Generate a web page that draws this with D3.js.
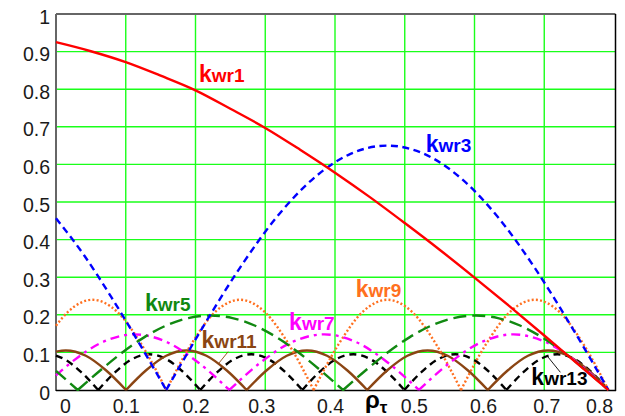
<!DOCTYPE html>
<html>
<head>
<meta charset="utf-8">
<script src="https://cdn.jsdelivr.net/npm/d3@7"></script>
<style>
  html, body { margin: 0; padding: 0; background: #fff; }
  svg { display: block; }
  text { font-family: "Liberation Sans", Arial, sans-serif; }
</style>
</head>
<body>
<svg id="chart" width="625" height="416"></svg>
<script>
// Axis ticks
const xTicks = [0, 0.1, 0.2, 0.3, 0.4, 0.5, 0.6, 0.7, 0.8];
const yTicks = [0, 0.1, 0.2, 0.3, 0.4, 0.5, 0.6, 0.7, 0.8, 0.9, 1];

// Harmonic orders of the winding factor curves
const harmonics = ["1", "3", "5", "7", "9", "11", "13"];

// Winding factor k_wr(nu) versus rho_tau, as [rho, k] pairs
const kwr1 = [[0,0.925],[0.05,0.901],[0.1,0.872],[0.15,0.836],[0.2,0.797],[0.25,0.748],
  [0.3,0.697],[0.35,0.639],[0.4,0.578],[0.45,0.513],[0.5,0.444],[0.55,0.373],[0.6,0.299],
  [0.65,0.223],[0.7,0.145],[0.75,0.066],[0.792,0]];

const kwr3 = [[0,0.457],[0.04,0.359],[0.08,0.245],[0.12,0.122],[0.158,0],
  [0.2108,0.168],[0.2637,0.325],[0.3165,0.46],[0.3693,0.563],[0.4222,0.628],[0.475,0.65],
  [0.5278,0.628],[0.5807,0.563],[0.6335,0.46],[0.6863,0.325],[0.7392,0.168],[0.792,0]];

const kwr5 = [[0,0.051],[0.0312,0],
  [0.0629,0.0512],[0.0946,0.099],[0.1263,0.14],[0.158,0.1715],[0.1897,0.1913],[0.2214,0.198],
  [0.2531,0.1913],[0.2848,0.1715],[0.3165,0.14],[0.3482,0.099],[0.3799,0.0512],[0.4116,0],
  [0.4433,0.0512],[0.475,0.099],[0.5067,0.14],[0.5384,0.1715],[0.5701,0.1913],[0.6018,0.198],
  [0.6335,0.1913],[0.6652,0.1715],[0.6969,0.14],[0.7286,0.099],[0.7603,0.0512],[0.792,0]];

const kwr7 = [[0,0.039],[0.0223,0.074],[0.0676,0.128],[0.1128,0.148],[0.1581,0.128],[0.2034,0.074],[0.2486,0],
  [0.2939,0.074],[0.3392,0.128],[0.3845,0.148],[0.4297,0.128],[0.475,0.074],[0.5203,0],
  [0.5656,0.074],[0.6108,0.128],[0.6561,0.148],[0.7014,0.128],[0.7467,0.074],[0.792,0]];

const kwr9 = [[0,0.171],[0.0172,0.208],[0.0525,0.24],[0.0877,0.208],[0.1229,0.12],[0.1581,0],
  [0.1933,0.12],[0.2285,0.208],[0.2638,0.24],[0.299,0.208],[0.3342,0.12],[0.3694,0],
  [0.4046,0.12],[0.4398,0.208],[0.4751,0.24],[0.5103,0.208],[0.5455,0.12],[0.5807,0],
  [0.6159,0.12],[0.6511,0.208],[0.6864,0.24],[0.7216,0.208],[0.7568,0.12],[0.792,0]];

const kwr11 = [[0,0.102],[0.014,0.105],[0.0428,0.091],[0.0716,0.0525],[0.1004,0],
  [0.1292,0.0525],[0.158,0.091],[0.1869,0.105],[0.2157,0.091],[0.2445,0.0525],[0.2733,0],
  [0.3021,0.0525],[0.3309,0.091],[0.3598,0.105],[0.3886,0.091],[0.4174,0.0525],[0.4462,0],
  [0.475,0.0525],[0.5038,0.091],[0.5327,0.105],[0.5615,0.091],[0.5903,0.0525],[0.6191,0],
  [0.6479,0.0525],[0.6767,0.091],[0.7056,0.105],[0.7344,0.091],[0.7632,0.0525],[0.792,0]];

const kwr13 = [[0,0.0915],[0.0117,0.0823],[0.0361,0.0475],[0.0605,0],
  [0.0849,0.0475],[0.1093,0.0823],[0.1337,0.095],[0.158,0.0823],[0.1824,0.0475],[0.2068,0],
  [0.2312,0.0475],[0.2556,0.0823],[0.28,0.095],[0.3043,0.0823],[0.3287,0.0475],[0.3531,0],
  [0.3775,0.0475],[0.4019,0.0823],[0.4263,0.095],[0.4506,0.0823],[0.475,0.0475],[0.4994,0],
  [0.5238,0.0475],[0.5482,0.0823],[0.5726,0.095],[0.5969,0.0823],[0.6213,0.0475],[0.6457,0],
  [0.6701,0.0475],[0.6945,0.0823],[0.7189,0.095],[0.7432,0.0823],[0.7676,0.0475],[0.792,0]];

const seriesData = { "1": kwr1, "3": kwr3, "5": kwr5, "7": kwr7, "9": kwr9, "11": kwr11, "13": kwr13 };

// Line styles per harmonic
const styles = {
  "1":  { color: "#ff0000", dash: null,          width: 2.4 },
  "3":  { color: "#0000ff", dash: "7,4.5",       width: 2.4 },
  "5":  { color: "#118811", dash: "13,6",        width: 2.4 },
  "7":  { color: "#ff00ff", dash: "9,5,3,5",     width: 2.4 },
  "9":  { color: "#ff7020", dash: "2,2.2",       width: 2.4 },
  "11": { color: "#8b4513", dash: null,          width: 2.4 },
  "13": { color: "#000000", dash: "7,5",         width: 2.4 }
};

// Curve labels: left edge / baseline in data units, plus optional leader line
const labels = {
  "1":  { x: 0.2049, y: 0.819, color: "#ff0000" },
  "3":  { x: 0.530,  y: 0.634, color: "#0000ff" },
  "5":  { x: 0.1275, y: 0.210, color: "#118811" },
  "7":  { x: 0.3342, y: 0.1596, color: "#ff00ff" },
  "9":  { x: 0.4298, y: 0.2473, color: "#ff7020" },
  "11": { x: 0.2087, y: 0.1104, color: "#8b4513", leader: [[0.2468,0.1019],[0.2325,0.0691]] },
  "13": { x: 0.6815, y: 0.0133, color: "#000000", leader: [[0.7039,0.0912],[0.7231,0.0471]] }
};

const svg = d3.select("#chart");
const plotLeft = 56, plotRight = 614, plotTop = 14, plotBottom = 390;

const x = d3.scaleLinear().domain([0, 0.8]).range([plotLeft, plotRight]);
const y = d3.scaleLinear().domain([0, 1]).range([plotBottom, plotTop]);

// Grid
const grid = svg.append("g");
grid.selectAll("line.h").data(yTicks.filter(v => v > 0 && v < 1)).join("line")
  .attr("x1", plotLeft).attr("x2", plotRight + 1.5)
  .attr("y1", d => y(d)).attr("y2", d => y(d))
  .attr("stroke", "#1aff1a").attr("stroke-width", 1.4);
grid.selectAll("line.v").data(xTicks.filter(v => v > 0 && v < 0.8)).join("line")
  .attr("x1", d => x(d)).attr("x2", d => x(d))
  .attr("y1", plotTop).attr("y2", plotBottom)
  .attr("stroke", "#1aff1a").attr("stroke-width", 1.4);

// Frame
svg.append("line").attr("x1", plotLeft).attr("x2", plotRight + 1.5).attr("y1", plotTop).attr("y2", plotTop)
  .attr("stroke", "#666").attr("stroke-width", 2);
svg.append("line").attr("x1", plotLeft).attr("x2", plotLeft).attr("y1", plotTop).attr("y2", plotBottom + 1)
  .attr("stroke", "#666").attr("stroke-width", 2);
svg.append("line").attr("x1", plotRight + 1.5).attr("x2", plotRight + 1.5).attr("y1", plotTop).attr("y2", plotBottom + 1)
  .attr("stroke", "#000").attr("stroke-width", 1.5);
svg.append("line").attr("x1", plotLeft).attr("x2", plotRight + 2).attr("y1", plotBottom + 0.5).attr("y2", plotBottom + 0.5)
  .attr("stroke", "#000").attr("stroke-width", 1.5);

// Y axis labels
const yAxis = d3.axisLeft(y).tickValues(yTicks).tickSize(0).tickPadding(6)
  .tickFormat(d => d === 0 ? "0" : d === 1 ? "1" : d3.format(".1f")(d));
const yg = svg.append("g").attr("transform", `translate(${plotLeft},0)`).call(yAxis);
yg.select(".domain").remove();
yg.selectAll("text").attr("font-size", 19.5).attr("fill", "#1a1a1a")
  .attr("font-family", '"Liberation Sans", Arial, sans-serif')
  .attr("dy", 9).attr("x", -6);

// X axis labels (end labels pulled inward, middle ones spread around the axis title)
const xNudge = [9, 0, 0, -4, -5, 9, 8.5, 2, -15];
const xAxis = d3.axisBottom(x).tickValues(xTicks).tickSize(0).tickPadding(0)
  .tickFormat(d => d === 0 ? "0" : d3.format(".1f")(d));
const xg = svg.append("g").attr("transform", `translate(0,${plotBottom})`).call(xAxis);
xg.select(".domain").remove();
xg.selectAll("text").attr("font-size", 19.5).attr("fill", "#1a1a1a")
  .attr("font-family", '"Liberation Sans", Arial, sans-serif')
  .attr("dy", null).attr("y", 23)
  .attr("dx", (d, i) => xNudge[i]);

// Axis title rho_tau
const xt = svg.append("text").attr("x", 365).attr("y", 408)
  .attr("font-weight", "bold").attr("fill", "#000");
xt.append("tspan").attr("font-size", 24).text("ρ");
xt.append("tspan").attr("font-size", 17).attr("dy", 5).text("τ");

// Curves: split at the zero cusps so each arch is interpolated on its own
const line = d3.line().x(d => x(d[0])).y(d => y(d[1])).curve(d3.curveMonotoneX);
function arches(pts) {
  const segs = [];
  let cur = [pts[0]];
  for (let i = 1; i < pts.length; i++) {
    cur.push(pts[i]);
    if (pts[i][1] === 0 && i < pts.length - 1) { segs.push(cur); cur = [pts[i]]; }
  }
  segs.push(cur);
  return segs;
}

const curves = svg.append("g").attr("fill", "none");
harmonics.slice().reverse().forEach(h => {
  const s = styles[h];
  curves.append("path")
    .attr("d", arches(seriesData[h]).map(seg => line(seg)).join(""))
    .attr("stroke", s.color)
    .attr("stroke-width", s.width)
    .attr("stroke-dasharray", s.dash)
    .attr("stroke-linejoin", "round");
});

// Curve labels
const lab = svg.append("g");
harmonics.forEach(h => {
  const L = labels[h];
  if (L.leader) {
    lab.append("line")
      .attr("x1", x(L.leader[0][0])).attr("y1", y(L.leader[0][1]))
      .attr("x2", x(L.leader[1][0])).attr("y2", y(L.leader[1][1]))
      .attr("stroke", L.color).attr("stroke-width", 0.9);
  }
  const t = lab.append("text").attr("x", x(L.x)).attr("y", y(L.y))
    .attr("font-weight", "bold").attr("fill", L.color);
  t.append("tspan").attr("font-size", 23).text("k");
  t.append("tspan").attr("font-size", 19).text("wr" + h);
});
</script>
</body>
</html>
